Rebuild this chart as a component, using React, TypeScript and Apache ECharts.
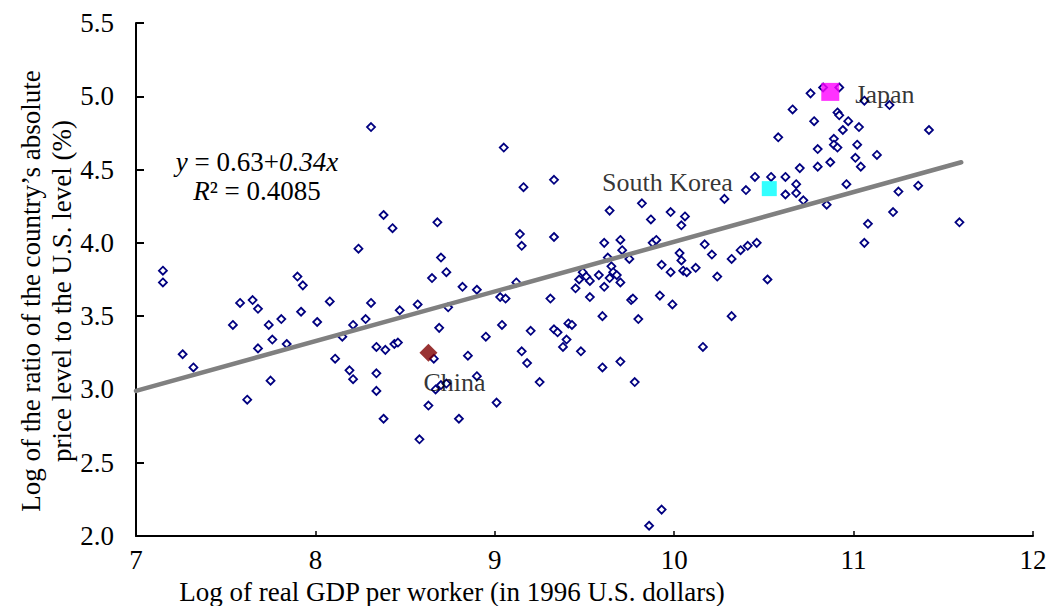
import React, { useEffect, useRef } from "react";
import * as echarts from "echarts";

// Log of real GDP per worker (x) and log of price-level ratio (y), one entry per country
const logGdpPerWorker = [
  7.15, 7.15, 7.26, 7.32, 7.54, 7.58, 7.65, 7.68, 7.62, 7.68, 7.74, 7.76, 7.81, 7.75, 7.84, 7.9, 7.93, 7.92,
  8.01, 8.08, 8.11, 8.15, 8.19, 8.21, 8.21, 8.24,
  8.31, 9.05, 9.16, 9.33, 8.38, 8.43, 8.68, 9.14, 9.15, 9.33, 8.7, 8.65, 8.73, 8.82, 8.9, 9.12, 9.03, 9.06,
  9.31, 8.31, 8.47, 8.57, 8.74,
  8.28, 8.69, 9.04, 8.34, 8.39, 8.44, 8.46, 8.66, 8.85, 8.95, 9.2, 9.33, 9.35, 9.41, 9.4, 9.38, 9.15, 9.18,
  9.25, 8.34, 8.34, 8.9, 8.67, 8.7, 8.73, 8.63, 8.38, 8.8, 9.01, 8.58,
  9.82, 9.64, 9.87, 9.98, 10.06, 10.04, 10.28, 10.4, 10.45, 9.61, 9.7, 9.71, 9.63, 9.75, 9.88, 9.9, 10.03,
  10.04, 10.17, 10.21, 10.32, 10.37, 10.41, 10.46, 10.52, 9.93, 9.98, 10.05, 10.07, 10.12, 10.24, 9.65, 9.66,
  9.68, 9.7, 9.64, 9.61, 9.58, 9.49, 9.47, 9.51, 9.53, 9.45, 9.53, 9.76, 9.77, 9.92, 9.99, 9.6, 9.8, 10.32,
  9.43, 9.48, 10.16, 9.6, 9.7, 9.78,
  9.93, 9.86,
  10.76, 10.83, 10.92, 11.06, 11.2, 10.66, 10.91, 10.92, 10.78, 10.97, 11.03, 10.94, 11.42, 10.58, 10.89,
  10.89, 10.91, 11.02, 10.8, 11.13, 11.01, 10.87, 11.04, 10.7, 10.8, 10.54, 10.62, 10.68, 10.62, 10.68,
  10.72, 10.85, 10.96, 11.25, 11.36, 11.22, 11.08, 11.06, 11.59,
];
const logPriceRatio = [
  3.81, 3.73, 3.24, 3.15, 3.44, 3.59, 3.61, 3.55, 2.93, 3.28, 3.44, 3.34, 3.48, 3.06, 3.31, 3.77, 3.71, 3.53,
  3.46, 3.6, 3.21, 3.36, 3.13, 3.07, 3.44, 3.96,
  4.79, 4.65, 4.38, 4.43, 4.19, 4.1, 4.14, 4.06, 3.98, 4.04, 3.9, 3.76, 3.8, 3.7, 3.68, 3.73, 3.63, 3.62,
  3.62, 3.59, 3.54, 3.58, 3.56,
  3.48, 3.42, 3.44, 3.29, 3.27, 3.31, 3.32, 3.21, 3.23, 3.36, 3.4, 3.41, 3.39, 3.45, 3.34, 3.29, 3.26, 3.18,
  3.05, 3.11, 2.99, 3.09, 3.0, 3.03, 3.04, 2.89, 2.8, 2.8, 2.91, 2.66,
  4.27, 4.22, 4.16, 4.21, 4.18, 4.12, 4.3, 4.36, 4.45, 4.0, 4.02, 3.95, 3.9, 3.89, 4.0, 4.02, 3.93,
  3.88, 3.99, 3.92, 3.89, 3.95, 3.98, 4.0, 3.75, 3.85, 3.8, 3.81, 3.8, 3.83, 3.77, 3.84, 3.8,
  3.78, 3.73, 3.76, 3.7, 3.78, 3.8, 3.75, 3.77, 3.74, 3.69, 3.63, 3.61, 3.62, 3.64, 3.58, 3.5, 3.48, 3.5,
  3.44, 3.26, 3.29, 3.15, 3.19, 3.05,
  2.18, 2.07,
  5.02, 5.06, 5.06, 4.97, 4.94, 4.91, 4.89, 4.87, 4.83, 4.83, 4.79, 4.77, 4.77, 4.72, 4.71,
  4.67, 4.65, 4.67, 4.64, 4.6, 4.58, 4.55, 4.52, 4.51, 4.52, 4.45, 4.45, 4.4, 4.33, 4.34,
  4.29, 4.26, 4.4, 4.35, 4.39, 4.21, 4.13, 4.0, 4.14,
];

const highlightNames = ["China", "South Korea", "Japan"];
const highlightX = [8.63, 10.53, 10.87];
const highlightY = [3.25, 4.37, 5.03];

const trendX = [7, 11.6];
const trendY = [2.99, 4.55];

const xAxisTitle = "Log of real GDP per worker (in 1996 U.S. dollars)";
const yAxisTitle = "Log of the ratio of the country\u2019s absolute\nprice level to the U.S. level (%)";
const equationText = "{i|y} = 0.63+{i|0.34x}";
const r2Text = "{i|R}\u00b2 = 0.4085";

const FONT = '"Liberation Serif", "Times New Roman", serif';

export default function App() {
  const ref = useRef<HTMLDivElement>(null);

  useEffect(() => {
    if (!ref.current) return;
    const chart = echarts.init(ref.current, undefined, { renderer: "svg" });
    const points = logGdpPerWorker.map((x, i) => [x, logPriceRatio[i]]);
    const trend = trendX.map((x, i) => [x, trendY[i]]);
    const hl = (i: number) => [[highlightX[i], highlightY[i]]];

    const labelBase = {
      show: true,
      fontFamily: FONT,
      fontSize: 26,
      color: "#000",
      verticalAlign: "middle",
    };

    chart.setOption({
      animation: false,
      grid: { left: 136, top: 23, width: 897, height: 513, containLabel: false },
      xAxis: {
        type: "value",
        min: 7,
        max: 12,
        interval: 1,
        axisLine: { show: true, lineStyle: { color: "#000", width: 2 } },
        axisTick: { show: true, inside: true, length: 5, lineStyle: { color: "#000", width: 1.5 } },
        splitLine: { show: false },
        axisLabel: { margin: 10, fontFamily: FONT, fontSize: 27, color: "#000" },
      },
      yAxis: {
        type: "value",
        min: 2,
        max: 5.5,
        interval: 0.5,
        axisLine: { show: true, lineStyle: { color: "#000", width: 2 } },
        axisTick: { show: true, inside: true, length: 8, lineStyle: { color: "#000", width: 2 } },
        splitLine: { show: false },
        axisLabel: {
          margin: 22,
          fontFamily: FONT,
          fontSize: 27,
          color: "#000",
          formatter: (v: number) => v.toFixed(1),
        },
      },
      series: [
        {
          name: "Countries",
          type: "scatter",
          data: points,
          symbol: "diamond",
          symbolSize: 8,
          itemStyle: { color: "#ffffff", borderColor: "#000080", borderWidth: 1.8, opacity: 1 },
          silent: true,
          z: 2,
        },
        {
          name: "Trend",
          type: "line",
          data: trend,
          showSymbol: false,
          symbol: "none",
          lineStyle: { color: "#808080", width: 4.5, cap: "round" },
          silent: true,
          z: 3,
        },
        {
          name: highlightNames[0],
          type: "scatter",
          data: hl(0),
          symbol: "diamond",
          symbolSize: 18,
          itemStyle: { color: "#800000" },
          label: { ...labelBase, formatter: highlightNames[0], position: [4, 39], align: "left" },
          silent: true,
          z: 4,
        },
        {
          name: highlightNames[1],
          type: "scatter",
          data: hl(1),
          symbol: "rect",
          symbolSize: 15,
          itemStyle: { color: "#00ffff" },
          label: { ...labelBase, formatter: highlightNames[1], position: [-29, 1.5], align: "right" },
          silent: true,
          z: 4,
        },
        {
          name: highlightNames[2],
          type: "scatter",
          data: hl(2),
          symbol: "rect",
          symbolSize: 18,
          itemStyle: { color: "#ff00ff" },
          label: { ...labelBase, formatter: highlightNames[2], position: [34, 11.4], align: "left" },
          silent: true,
          z: 4,
        },
      ],
      graphic: [
        {
          type: "text",
          x: 257,
          y: 162,
          style: {
            text: equationText,
            fontFamily: FONT,
            fontSize: 27,
            fill: "#000",
            align: "center",
            verticalAlign: "middle",
            rich: { i: { fontStyle: "italic", fontFamily: FONT, fontSize: 27 } },
          },
        },
        {
          type: "text",
          x: 257,
          y: 191,
          style: {
            text: r2Text,
            fontFamily: FONT,
            fontSize: 27,
            fill: "#000",
            align: "center",
            verticalAlign: "middle",
            rich: { i: { fontStyle: "italic", fontFamily: FONT, fontSize: 27 } },
          },
        },
        {
          type: "text",
          x: 452,
          y: 592,
          style: {
            text: xAxisTitle,
            fontFamily: FONT,
            fontSize: 27,
            fill: "#000",
            align: "center",
            verticalAlign: "middle",
          },
        },
        {
          type: "text",
          x: 46.5,
          y: 291,
          rotation: Math.PI / 2,
          style: {
            text: yAxisTitle,
            fontFamily: FONT,
            fontSize: 27,
            lineHeight: 31,
            fill: "#000",
            align: "center",
            verticalAlign: "middle",
          },
        },
      ],
    });

    return () => chart.dispose();
  }, []);

  return (
    <div
      ref={ref}
      style={{ position: "fixed", left: 0, top: 0, width: 1051, height: 606, background: "#fff" }}
    />
  );
}
